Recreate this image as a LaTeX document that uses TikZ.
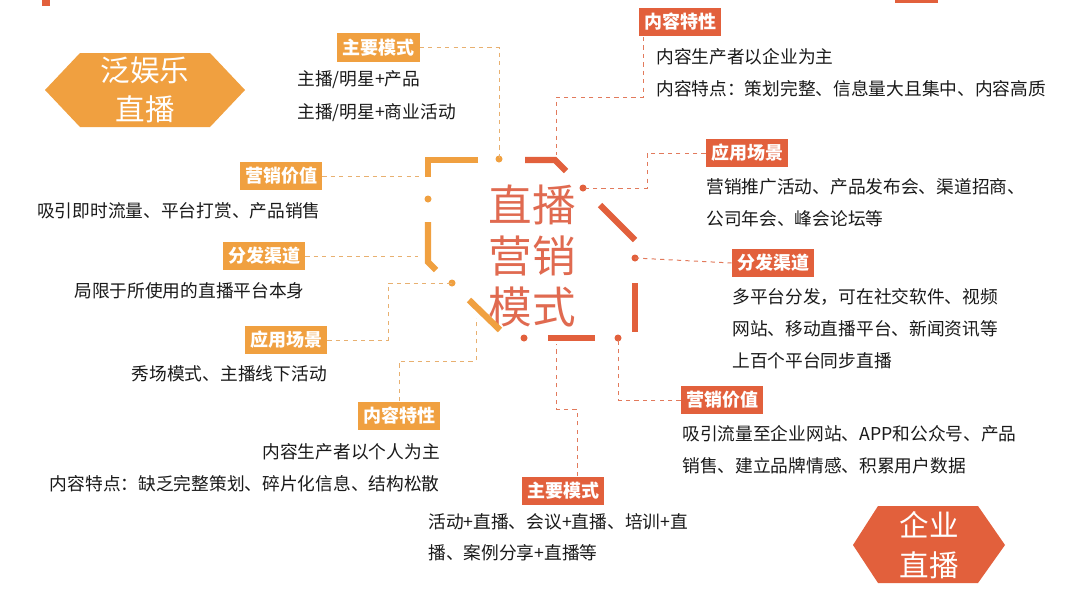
\documentclass[tikz,border=0pt]{standalone}
\usepackage{fontspec}
\setmainfont{Noto Sans CJK SC}
\definecolor{lorange}{HTML}{F0A040}
\definecolor{rorange}{HTML}{E2603C}
\definecolor{ldash}{HTML}{E8B070}
\definecolor{rdash}{HTML}{E27A5C}
\definecolor{ctext}{HTML}{E06A50}
\definecolor{btext}{HTML}{1A1A1A}
\tikzset{
  ltag/.style={fill=lorange,text=white,font=\bfseries\fontsize{12.8pt}{14pt}\selectfont,
    minimum width=2.05cm,minimum height=0.72cm,inner sep=0pt},
  rtag/.style={ltag,fill=rorange},
  desc/.style={anchor=west,inner sep=0pt,text=btext,font=\fontsize{12.6pt}{14pt}\selectfont},
  ldash/.style={draw=ldash,dashed,line width=0.7pt},
  rdash/.style={draw=rdash,dashed,line width=0.7pt},
  lbar/.style={draw=lorange,line width=4.5pt},
  rbar/.style={draw=rorange,line width=4.5pt},
}
\begin{document}
\begin{tikzpicture}[x=0.025cm,y=-0.025cm]
  \useasboundingbox[fill=white] (0,0) rectangle (1080,607);
  %%%%%%%%%%%%%corner marks%%%%%%%%%%%%%%%%%%%%%%
  \fill[rorange] (42,0) rectangle (50,6);
  \fill[rorange] (895,0) rectangle (938,3);

  %%%%%%%%%%%%%the two hexagons%%%%%%%%%%%%%%%%%%%%%%
  \fill[lorange] (45,90) -- (80,53) -- (210,53) -- (245,90) -- (210,127) -- (80,127) -- cycle;
  \node[text=white,align=center,font=\fontsize{21pt}{28pt}\selectfont] (fun) at (145,90) {泛娱乐\\直播};
  \fill[rorange] (853,545) -- (878,506) -- (978,506) -- (1005,545) -- (978,583) -- (878,583) -- cycle;
  \node[text=white,align=center,font=\fontsize{21pt}{28pt}\selectfont] (ent) at (929,545) {企业\\直播};

  %%%%%%%%%%%%%the broken octagon%%%%%%%%%%%%%%%%%%%%%%
  \node[text=ctext,align=center,font=\fontsize{31pt}{36pt}\selectfont] (core) at (532,256) {直播\\营销\\模式};
  \draw[lbar] (478,160) -- (428,160) -- (428,177);
  \draw[lbar] (428,222) -- (428,262) -- (436,270);
  \draw[lbar] (469,300) -- (500,330);
  \draw[rbar] (525,160) -- (555,160) -- (566,171);
  \draw[rbar] (600,205) -- (635,240);
  \draw[rbar] (635,283) -- (635,332);
  \draw[rbar] (548,338) -- (595,338);
  \coordinate (dtop) at (499,159);
  \coordinate (dleft) at (428,199);
  \coordinate (dlow) at (452,283);
  \coordinate (dne) at (583,188);
  \coordinate (deast) at (635,258);
  \coordinate (dse) at (618,338);
  \coordinate (dsouth) at (524,338);
  \foreach \d in {dtop,dleft,dlow} \fill[lorange] (\d) circle (3.5);
  \foreach \d in {dne,deast,dse,dsouth} \fill[rorange] (\d) circle (3.5);

  %%%%%%%%%%%%%left side: 泛娱乐直播%%%%%%%%%%%%%%%%%%%%%%
  \node[ltag] (lmode) at (378.5,47.5) {主要模式};
  \node[desc] (lmode1) at (297,80) {主播/明星+产品};
  \node[desc] (lmode2) at (297,113) {主播/明星+商业活动};
  \draw[ldash] (lmode.east) -| (dtop);

  \node[ltag] (lvalue) at (281,176) {营销价值};
  \node[desc,anchor=east] (lvalue1) at (321,211) {吸引即时流量、平台打赏、产品销售};
  \draw[ldash] (lvalue.east) -- (420,176);

  \node[ltag] (lchan) at (264,256) {分发渠道};
  \node[desc,anchor=east] (lchan1) at (305,291) {局限于所使用的直播平台本身};
  \draw[ldash] (lchan.east) -- (418,256);

  \node[ltag] (lscene) at (286,340) {应用场景};
  \node[desc,anchor=east] (lscene1) at (327,374) {秀场模式、主播线下活动};
  \draw[ldash] (lscene.east) -- (388,340) |- (dlow);

  \node[ltag] (lcont) at (399,416) {内容特性};
  \node[desc,anchor=east] (lcont1) at (440,452) {内容生产者以个人为主};
  \node[desc,anchor=east] (lcont2) at (440,484) {内容特点：缺乏完整策划、碎片化信息、结构松散};
  \draw[ldash] (lcont.north) -- (399,361) -| (476,318);

  %%%%%%%%%%%%%right side: 企业直播%%%%%%%%%%%%%%%%%%%%%%
  \node[rtag] (rcont) at (680,22) {内容特性};
  \node[desc] (rcont1) at (656,57) {内容生产者以企业为主};
  \node[desc] (rcont2) at (656,89) {内容特点：策划完整、信息量大且集中、内容高质};
  \draw[rdash] (643,37) -- (643,97) -| (556,155);

  \node[rtag] (rscene) at (747,153) {应用场景};
  \node[desc] (rscene1) at (706,187) {营销推广活动、产品发布会、渠道招商、};
  \node[desc] (rscene2) at (706,219) {公司年会、峰会论坛等};
  \draw[rdash] (rscene.west) -- (647,153) |- (dne);

  \node[rtag] (rchan) at (773,263) {分发渠道};
  \node[desc] (rchan1) at (732,297) {多平台分发，可在社交软件、视频};
  \node[desc] (rchan2) at (732,329) {网站、移动直播平台、新闻资讯等};
  \node[desc] (rchan3) at (732,361) {上百个平台同步直播};
  \draw[rdash] (rchan.west) -- (deast);

  \node[rtag] (rvalue) at (722,400) {营销价值};
  \node[desc] (rvalue1) at (682,434) {吸引流量至企业网站、APP和公众号、产品};
  \node[desc] (rvalue2) at (682,466) {销售、建立品牌情感、积累用户数据};
  \draw[rdash] (rvalue.west) -| (dse);

  \node[rtag] (rmode) at (563,491) {主要模式};
  \node[desc] (rmode1) at (428,522) {活动+直播、会议+直播、培训+直};
  \node[desc] (rmode2) at (428,553) {播、案例分享+直播等};
  \draw[rdash] (577,476) -- (577,409) -| (556,344);
\end{tikzpicture}
\end{document}
